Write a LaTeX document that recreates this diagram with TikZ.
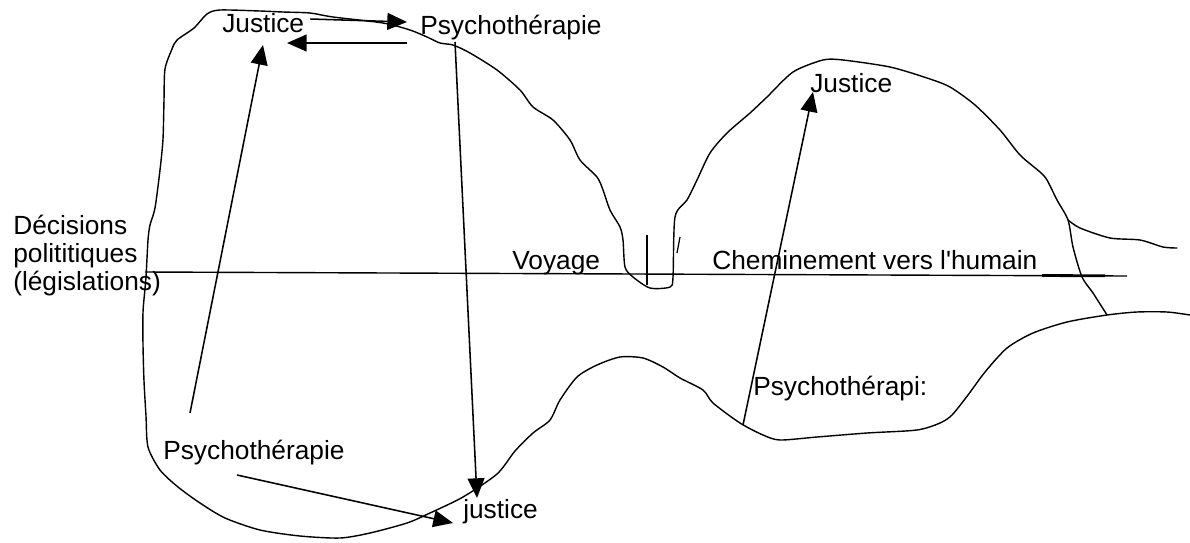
\documentclass[tikz,border=0pt]{standalone}
\usepackage{fontspec}
\setmainfont{Liberation Sans}
\usetikzlibrary{arrows.meta,calc}
\tikzset{
  lbl/.style={inner sep=0pt, anchor=base west, font=\fontsize{18.7}{19.8}\selectfont},
  arr/.style={line width=1.1pt, -{Triangle[length=14pt,width=12pt]}},
  rim/.style={line width=1pt, line join=round, line cap=round},
}

\begin{document}
\begin{tikzpicture}[x=0.025cm, y=-0.025cm]
\useasboundingbox (0,0) rectangle (1190,542);

% Outline of the path
\draw[rim] plot[smooth, tension=0.45] coordinates {
  (1190,315) (1167,312) (1137,312) (1107,315) (1067,322) (1033,333) (1007,348)
  (985,372) (968,395) (952,415) (940,423) (917,430) (867,433) (817,437)
  (780,440) (763,435) (740,423) (713,403) (703,390) (680,378) (663,367)
  (643,358) (620,357) (597,365) (577,377) (560,400) (550,420) (533,433)
  (515,451) (497,474) (463,497) (430,513) (407,523) (370,533) (340,538)
  (300,536) (260,530) (225,518) (200,503) (178,487) (160,470) (148,447)
  (146,416) (144,381) (143,345) (143,312) (146,277) (148,240) (150,225)
  (155,208) (160,170) (163,139) (164,100) (165,69) (172,49) (177,40)
  (194,28) (207,14) (220,10) (260,11) (283,12) (310,13) (333,17) (383,23)
  (410,30) (427,37) (440,43) (453,45) (470,53) (497,70) (520,90) (533,107)
  (553,120) (570,140) (580,160) (597,177) (603,190) (610,210) (620,227)
  (623,240) (625,267) (633,277) (650,288) (670,287) (673,277) (675,217)
  (687,200) (697,180) (710,153) (727,133) (750,113) (767,97) (793,72)
  (823,60) (843,60) (890,67) (927,78) (950,87) (975,105) (1000,130)
  (1020,155) (1040,172) (1047,180) (1057,200) (1068,220) (1073,247)
  (1082,277) (1093,293) (1107,315)};
\draw[rim] plot[smooth, tension=0.45] coordinates {
  (1068,220) (1080,228) (1110,238) (1140,240) (1163,247) (1177,248)};

% marks in the notch
\draw[line width=0.9pt] (647,235) -- (647,285);
\draw[line width=0.9pt] (680,237) -- (677,253);

% axis
\coordinate (lineL) at (145,272);
\coordinate (lineR) at (1127,276);
\draw[line width=1pt] (lineL) -- (lineR);
\draw[line width=2pt] (1042,275.5) -- (1105,275.8);

% labels
\node[lbl] (jtl) at (222,32) {Justice};
\node[lbl] (ptop) at (420,34) {Psychothérapie};
\node[lbl] (jr) at (810,92) {Justice};
\node[lbl, align=left] (dec) at (13,290) {Décisions\\polititiques\\(législations)};
\node[lbl] (voy) at (512,269) {Voyage};
\node[lbl] (chem) at (712,269) {Cheminement vers l\textquotesingle humain};
\node[lbl] (pbl) at (163,459) {Psychothérapie};
\node[lbl] (jb) at (463,518) {justice};
\node[lbl] (pr) at (753,395) {Psychothérapi:};

% arrows
\draw[arr] ($(jtl.base east)+(6,-13)$) -- ($(ptop.base west)+(-13,-12)$);
\draw[arr] ($(ptop.base west)+(-13,9)$) -- ($(jtl.base west)+(65,11)$);
\draw[arr] ($(pbl.base west)+(27,-46)$) -- ($(jtl.base west)+(41,13)$);
\draw[arr] ($(ptop.base west)+(35,8)$) -- ($(jb.base west)+(14,-20)$);
\draw[arr] ($(pbl.base west)+(74,16)$) -- ($(jb.base west)+(-10,5)$);
\draw[arr] ($(pr.base west)+(-10,30)$) -- ($(jr.base west)+(3,0)$);
\end{tikzpicture}
\end{document}
